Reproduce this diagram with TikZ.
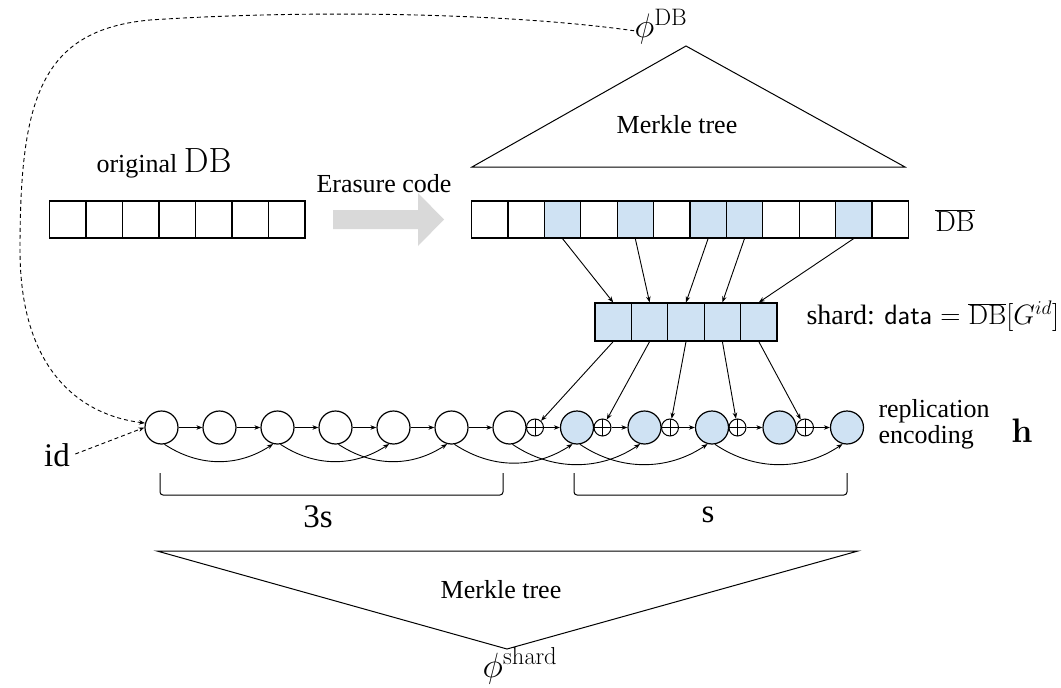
\RequirePackage{fix-cm}
\documentclass[tikz,border=0pt]{standalone}
\usepackage[no-math]{fontspec}
\setmainfont{Liberation Serif}
\usetikzlibrary{arrows.meta,calc}
\definecolor{cellblue}{HTML}{CFE2F3}
\definecolor{arrgray}{HTML}{D9D9D9}
\tikzset{
  base/.style={font=\fontsize{26}{26}\selectfont, inner sep=0pt},
  big/.style={font=\fontsize{33}{38}\selectfont, inner sep=0pt},
  cell/.style={draw, line width=1.2pt, minimum width=36.4pt, minimum height=37pt, inner sep=0pt},
  circ/.style={circle, draw, line width=1.2pt, minimum size=33pt, inner sep=0pt},
  xorn/.style={circle, draw, line width=1pt, minimum size=17pt, inner sep=0pt,
    path picture={\draw[line width=1pt] (path picture bounding box.north) -- (path picture bounding box.south)
      (path picture bounding box.west) -- (path picture bounding box.east);}},
  arr/.style={-{Stealth[length=6pt,width=4.5pt]}, line width=0.9pt},
  dsh/.style={dash pattern=on 4pt off 3pt, line width=0.9pt}
}
\begin{document}
\begin{tikzpicture}[x=1pt,y=-1pt, line width=1pt]
\useasboundingbox (0,0) rectangle (1061,688);

% top Merkle tree
\draw (472,167) -- (686,46) -- (905,167) -- cycle;
\node[base] (mt1) at (677,125) {Merkle tree};
\node[font=\fontsize{34}{40}\selectfont, inner sep=0pt] (phidb) at (661,27) {$\phi^{\mathrm{DB}}$};

% original DB
\node[base] (origlbl) at (164,163) {original {\fontsize{35}{40}\selectfont$\mathrm{DB}$}};
\foreach \i in {0,...,6} \node[cell] (o\i) at ({49.5+36.5*(\i+0.5)},219.5) {};

% erasure code arrow
\node[base] (erasure) at (384,184) {Erasure code};
\fill[arrgray] (333,210) -- (418,210) -- (418,193) -- (444,219.5) -- (418,246) -- (418,229) -- (333,229) -- cycle;

% encoded DB
\foreach \i/\f in {0/white,1/white,2/cellblue,3/white,4/cellblue,5/white,6/cellblue,7/cellblue,8/white,9/white,10/cellblue,11/white}
  \node[cell, fill=\f] (d\i) at ({471.5+36.4*(\i+0.5)},219.5) {};
\node[font=\fontsize{29}{32}\selectfont, inner sep=0pt] (dbbar) at (955,221) {$\overline{\mathrm{DB}}$};

% shard
\foreach \i in {0,...,4} \node[cell, fill=cellblue, minimum height=38pt] (s\i) at ({595+36.4*(\i+0.5)},322) {};
\node[font=\fontsize{28}{30}\selectfont, inner sep=0pt, anchor=west] (shardlbl) at (806,316) {shard: $\mathsf{data}=\overline{\mathrm{DB}}[G^{id}]$};
\foreach \d/\s in {2/0,4/1,6/2,7/3,10/4} \draw[arr] (d\d.south) -- (s\s.north);

% replication chain
\foreach \i in {1,...,7} \node[circ] (c\i) at ({161.5+58*(\i-1)},427.5) {};
\foreach \i in {8,...,12} \node[circ, fill=cellblue] (c\i) at ({509.5+67.5*(\i-7)},427.5) {};
\foreach \i in {7,...,11} \node[xorn] (p\i) at ({509.5+67.5*(\i-7)+25.5},427.5) {};
\foreach \i/\j in {1/2,2/3,3/4,4/5,5/6,6/7} \draw[arr] (c\i) -- (c\j);
\foreach \i/\j in {7/8,8/9,9/10,10/11,11/12} \draw[arr] (p\i) -- (c\j);
\foreach \s/\p in {0/7,1/8,2/9,3/10,4/11} \draw[arr] (s\s.south) -- (p\p);
\foreach \a/\b/\h/\v in {1/3/35/23,3/5/35/23,4/6/35/23,6/8/38/25,7/9/40/27,8/10/40/27,10/12/40/27}
  \draw[arr] (c\a.-80) .. controls +(\h,\v) and +(-\h,\v) .. (c\b.-105);

\node[base, align=left, anchor=west, font=\fontsize{26}{26}\selectfont] (repl) at (878,424) {replication\\encoding};
\node[font=\fontsize{34}{40}\selectfont, inner sep=0pt] (h) at (1022,431) {$\mathbf{h}$};

% id and dashed connectors
\node[big] (id) at (57,455) {id};
\coordinate (idout) at ($(id.east)+(5,-1)$);
\draw[dsh, -{Stealth[length=6pt,width=4.5pt]}] (idout) -- (c1.west);
\draw[dsh, -{Stealth[length=6pt,width=4.5pt]}] (phidb.-172) .. controls (500,12) and (300,10) .. (150,20)
  .. controls (40,30) and (20,100) .. (20,250) .. controls (20,370) and (80,415) .. (c1.165);

% braces
\draw[rounded corners=3pt] (160,473) -- (160,495) -- (503,495) -- (503,473);
\draw[rounded corners=3pt] (574,473) -- (574,495) -- (847,495) -- (847,473);
\node[big] (threes) at (318,517) {3s};
\node[big] (s) at (708,515) {s};

% bottom Merkle tree
\draw (157,551) -- (858,551) -- (507,649) -- cycle;
\node[base] (mt2) at (501,590) {Merkle tree};
\node[font=\fontsize{35}{40}\selectfont, inner sep=0pt] (phishard) at (520,666) {$\phi^{\mathrm{shard}}$};
\end{tikzpicture}
\end{document}
